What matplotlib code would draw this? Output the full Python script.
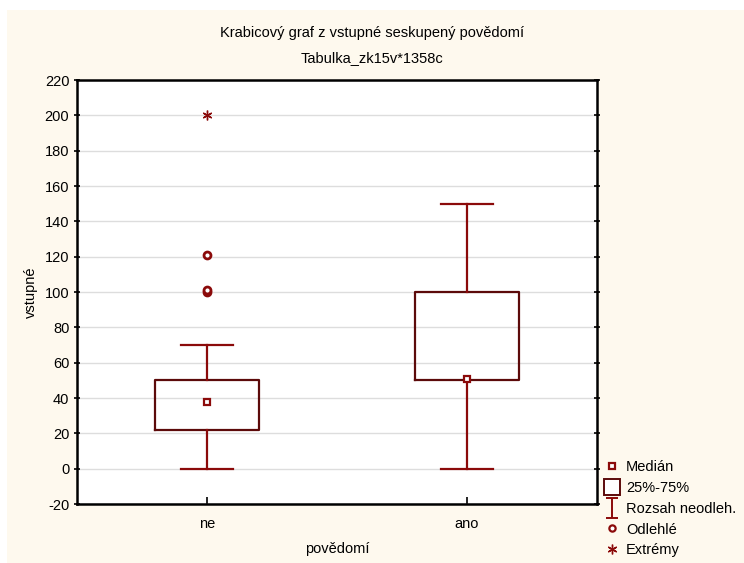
import matplotlib
matplotlib.use("Agg")
import matplotlib.pyplot as plt
from matplotlib.lines import Line2D
from matplotlib.path import Path
from matplotlib.patches import Rectangle

categories = ["ne", "ano"]
medians = [38, 50.5]
q1 = [22, 50]
q3 = [50, 100]
whisker_lo = [0, 0]
whisker_hi = [70, 150]
outliers = [[100, 101, 121], []]
extremes = [[200], []]
yticks = list(range(-20, 221, 20))

title1 = "Krabicový graf z vstupné seskupený povědomí"
title2 = "Tabulka_zk15v*1358c"

WHISK = "#8B0A0A"
BOXC = "#5C0A0A"
CREAM = "#FEF9EE"

plt.rcParams['font.family'] = ['Liberation Sans', 'DejaVu Sans']
plt.rcParams['axes.unicode_minus'] = False

fig = plt.figure(figsize=(7.44, 5.63), dpi=100, facecolor="white")
fig.patches.append(Rectangle((7/744, 0), 1, 1 - 10/563, transform=fig.transFigure,
                             facecolor=CREAM, edgecolor="none", zorder=-10))

ax = fig.add_axes([77/744, 1 - 504/563, 520/744, 424/563])
ax.set_facecolor("white")

pos = [1, 2]
stats = []
for i in range(len(categories)):
    stats.append(dict(med=medians[i], q1=q1[i], q3=q3[i], whislo=whisker_lo[i],
                      whishi=whisker_hi[i], fliers=[], label=categories[i]))

ax.bxp(stats, positions=pos, widths=0.40, showfliers=False,
       boxprops=dict(color=BOXC, linewidth=1.6),
       whiskerprops=dict(color=WHISK, linewidth=1.6),
       capprops=dict(color=WHISK, linewidth=1.6),
       medianprops=dict(linestyle="none"),
       capwidths=0.2, zorder=3)

ax.plot(pos, medians, linestyle="none", marker="s", markersize=5,
        markerfacecolor="white", markeredgecolor=WHISK, markeredgewidth=1.6, zorder=4)
for p, vals in zip(pos, outliers):
    if vals:
        ax.plot([p]*len(vals), vals, linestyle="none", marker="o", markersize=5,
                markerfacecolor="white", markeredgecolor=WHISK, markeredgewidth=2.0, zorder=4)
for p, vals in zip(pos, extremes):
    if vals:
        ax.plot([p]*len(vals), vals, linestyle="none", marker=(6, 2, 0), markersize=7,
                color=WHISK, markeredgewidth=1.0, zorder=4)

ax.set_xlim(0.5, 2.5)
ax.set_ylim(-20, 220)
ax.set_yticks(yticks)
ax.set_xticks(pos)
ax.set_xticklabels(categories)
ax.yaxis.grid(True, color="#DDDDDD", linewidth=1.0, zorder=0)
ax.set_axisbelow(True)
for s in ax.spines.values():
    s.set_linewidth(1.8)
    s.set_color("black")
ax.tick_params(axis="y", direction="inout", length=5, width=1.2, labelsize=10.5, right=True, pad=3)
ax.tick_params(axis="x", direction="in", length=5, width=1.2, labelsize=10.5, pad=9)

ax.set_ylabel("vstupné", fontsize=10.5, labelpad=5)
ax.set_xlabel("povědomí", fontsize=10.5, labelpad=8)

fig.text(0.5 + 0.0, 1 - 33/563, title1, ha="center", va="center", fontsize=10.5,
         family=['Liberation Sans Narrow', 'Liberation Sans', 'DejaVu Sans'])
fig.text(0.5 + 0.0, 1 - 58/563, title2, ha="center", va="center", fontsize=10.5,
         family=['Liberation Sans Narrow', 'Liberation Sans', 'DejaVu Sans'])

whisk_path = Path([(-0.6, 1), (0.6, 1), (0, 1), (0, -1), (-0.6, -1), (0.6, -1)],
                  [Path.MOVETO, Path.LINETO, Path.MOVETO, Path.LINETO, Path.MOVETO, Path.LINETO])
handles = [
    Line2D([], [], linestyle="none", marker="s", markersize=5, markerfacecolor="white",
           markeredgecolor=WHISK, markeredgewidth=1.6),
    Line2D([], [], linestyle="none", marker="s", markersize=11.5, markerfacecolor="white",
           markeredgecolor=BOXC, markeredgewidth=1.4),
    Line2D([], [], linestyle="none", marker=whisk_path, markersize=14, color=WHISK,
           markeredgewidth=1.4),
    Line2D([], [], linestyle="none", marker="o", markersize=4.5, markerfacecolor="white",
           markeredgecolor=WHISK, markeredgewidth=1.6),
    Line2D([], [], linestyle="none", marker=(6, 2, 0), markersize=7, color=WHISK,
           markeredgewidth=1.0),
]
labels = ["Medián", "25%-75%", "Rozsah neodleh.", "Odlehlé", "Extrémy"]
fig.legend(handles, labels, loc="upper left", bbox_to_anchor=(605/744, 1 - 460/563),
           frameon=False, fontsize=10.5, handlelength=1.0, handletextpad=0.45,
           labelspacing=0.47, borderaxespad=0, borderpad=0)

fig.savefig("out.png", dpi=100, facecolor=fig.get_facecolor())
